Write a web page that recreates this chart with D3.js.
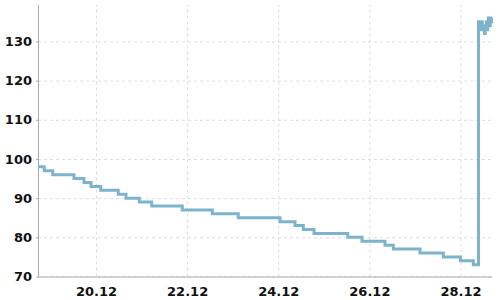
<!DOCTYPE html>
<html>
<head>
<meta charset="utf-8">
<script src="https://cdn.jsdelivr.net/npm/d3@7"></script>
<style>
  body { margin: 0; background: #fff; }
  .axis text { font-family: "DejaVu Sans", sans-serif; font-size: 13px; font-weight: bold; fill: #111; }
  .axis path, .axis line { stroke: #aaa; }
  .grid line { stroke: #ddd; stroke-dasharray: 3,3; }
  .grid path { display: none; }
</style>
</head>
<body>
<svg id="chart" width="500" height="300"></svg>
<script>
var times = [
  "2021-12-18 17:27", "2021-12-18 20:45", "2021-12-19 01:12", "2021-12-19 12:25",
  "2021-12-19 17:41", "2021-12-19 21:22", "2021-12-20 02:29", "2021-12-20 11:44",
  "2021-12-20 15:48", "2021-12-20 22:48", "2021-12-21 05:21", "2021-12-21 21:27",
  "2021-12-22 13:16", "2021-12-23 02:57", "2021-12-24 00:56", "2021-12-24 08:50",
  "2021-12-24 13:12", "2021-12-24 18:50", "2021-12-25 12:36", "2021-12-25 20:07",
  "2021-12-26 08:14", "2021-12-26 12:36", "2021-12-27 02:40", "2021-12-27 14:57",
  "2021-12-28 00:00", "2021-12-28 06:45", "2021-12-28 09:29", "2021-12-28 09:45",
  "2021-12-28 10:05", "2021-12-28 10:25", "2021-12-28 10:45", "2021-12-28 11:05",
  "2021-12-28 11:30", "2021-12-28 11:50", "2021-12-28 12:15", "2021-12-28 12:40",
  "2021-12-28 13:00", "2021-12-28 13:20", "2021-12-28 13:40", "2021-12-28 14:00",
  "2021-12-28 14:20", "2021-12-28 14:40", "2021-12-28 15:00", "2021-12-28 15:20",
  "2021-12-28 15:40", "2021-12-28 16:00", "2021-12-28 16:20", "2021-12-28 16:35"
];
var values = [
  98, 97, 96, 95,
  94, 93, 92, 91,
  90, 89, 88, 87,
  86, 85, 84, 83,
  82, 81, 80, 79,
  78, 77, 76, 75,
  74, 73, 135, 133,
  135, 134, 133, 135,
  133, 134, 133, 132,
  134, 133, 135, 133,
  134, 136, 136, 134,
  136, 135, 136, 136
];
var yTicks = [70, 80, 90, 100, 110, 120, 130];
var xTicks = ["2021-12-20", "2021-12-22", "2021-12-24", "2021-12-26", "2021-12-28"];
var yDomain = [70, 139.3];

var parse = d3.timeParse("%Y-%m-%d %H:%M");
var parseDay = d3.timeParse("%Y-%m-%d");
var data = times.map(function (t, i) { return { date: parse(t), value: values[i] }; });
var xTickDates = xTicks.map(parseDay);

var svg = d3.select("#chart"),
    margin = { top: 5, right: 8, bottom: 23.5, left: 38 },
    width = +svg.attr("width") - margin.left - margin.right,
    height = +svg.attr("height") - margin.top - margin.bottom;

var x = d3.scaleTime().domain(d3.extent(data, function (d) { return d.date; })).range([0, width]);
var y = d3.scaleLinear().domain(yDomain).range([height, 0]);

var g = svg.append("g")
    .attr("transform", "translate(" + margin.left + "," + margin.top + ")");

// grid
g.append("g")
    .attr("class", "grid")
    .call(d3.axisLeft(y).tickValues(yTicks).tickFormat("").tickSize(-width));
g.append("g")
    .attr("class", "grid")
    .attr("transform", "translate(0," + height + ")")
    .call(d3.axisBottom(x).tickValues(xTickDates).tickFormat("").tickSize(-height));

// axes
g.append("g")
    .attr("class", "axis")
    .attr("transform", "translate(0," + height + ")")
    .call(d3.axisBottom(x).tickValues(xTickDates).tickFormat(d3.timeFormat("%d.%m")).tickSize(0).tickPadding(10))
    .call(function (a) { a.select(".domain").attr("d", "M0,0.5H" + width); });

g.append("g")
    .attr("class", "axis")
    .call(d3.axisLeft(y).tickValues(yTicks).tickSize(2).tickPadding(4))
    .call(function (a) { a.select(".domain").attr("d", "M0.5," + height + "V0"); });

var line = d3.line()
    .curve(d3.curveStepAfter)
    .x(function (d) { return x(d.date); })
    .y(function (d) { return y(d.value); });

g.append("path")
    .datum(data)
    .attr("fill", "none")
    .attr("stroke", "#7db4cc")
    .attr("stroke-width", 3)
    .attr("d", line);
</script>
</body>
</html>
